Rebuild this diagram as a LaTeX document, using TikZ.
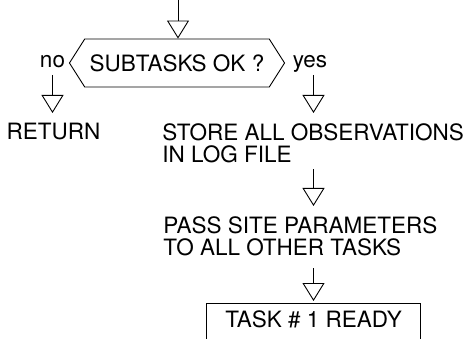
\documentclass[tikz,border=0pt]{standalone}
\usepackage{fontspec}
\setmainfont{TeX Gyre Heros}
\usepackage{tikz}
\usetikzlibrary{arrows.meta, shapes.symbols}

\begin{document}
\begin{tikzpicture}[
            x=1pt, y=-1pt,
            line width=0.9pt,
            every node/.style={font=\fontsize{22.5}{22}\selectfont},
            flow/.style={
                -{Triangle[open, length=18pt, width=22pt, line width=0.9pt]},
                shorten <=7pt,
                shorten >=10pt
            },
            flow text/.style={inner sep=0pt, align=left},
            decision/.style={
                draw, shape=signal, signal to=west and east,
                signal pointer angle=115,
                minimum height=48pt, inner xsep=5pt, inner ysep=0pt
            },
            answer/.style={inner sep=0pt},
            task box/.style={minimum width=213pt, inner xsep=0pt, inner ysep=7pt},
        ]
        \useasboundingbox (0,0) rectangle (466,339);

        \def\spine{313.5}

        \node[decision] (subtasks) at (177,63) {SUBTASKS OK ?};
        \node[answer] (no) at (52.5,62) {no};
        \node[answer, anchor=base] (yes) at (310,68) {yes};

        \node[flow text, anchor=north] (return) at (53.5,123) {RETURN};
        \node[flow text, anchor=north west] (store) at (162,123)
            {STORE ALL OBSERVATIONS\\IN LOG FILE};
        \node[flow text, anchor=north west] (pass) at (163,216)
            {PASS SITE PARAMETERS\\TO ALL OTHER TASKS};
        \node[task box, anchor=north] (ready) at (\spine,303) {TASK \# 1 READY};

        \coordinate (entry) at (178,0);
        \coordinate (bottom) at (0,339);

        \draw[flow, shorten <=0pt, shorten >=0pt] (entry) -- (entry |- subtasks.north);
        \draw[flow, shorten >=10pt] (no.base) -- (no.base |- return.north);
        \draw[flow, shorten >=10pt] (yes.base -| ready) -- (ready |- store.north);
        \draw[flow, shorten <=6pt] (store.south -| ready) -- (ready |- pass.north);
        \draw[flow, shorten <=12pt, shorten >=2pt] (pass.south -| ready) -- (ready.north);

        \draw (ready.north west |- bottom) -- (ready.north west) -- (ready.north east) -- (ready.north east |- bottom);
        \end{tikzpicture}
\end{document}
